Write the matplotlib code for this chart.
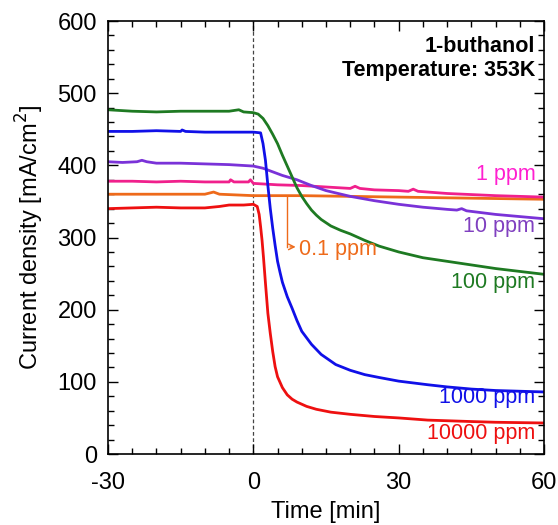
import matplotlib
matplotlib.use("Agg")
import matplotlib.pyplot as plt
from matplotlib.ticker import MultipleLocator

plt.rcParams['font.family'] = ['Liberation Sans', 'DejaVu Sans']
plt.rcParams['axes.unicode_minus'] = False

# ---- data ----
t_green = [-30, -25, -20, -15, -10, -5, -3, -2, 0, 1, 2, 3, 4, 5, 6, 7, 8, 9, 10, 11, 12, 13, 14, 16, 18, 20, 23, 26, 30, 35, 40, 45, 50, 55, 60]
v_green = [477, 475, 474, 475, 475, 475, 477, 474, 473, 471, 465, 455, 443, 430, 414, 399, 384, 369, 357, 347, 338, 331, 325, 316, 310, 305, 296, 288, 280, 272, 267, 262, 257, 253, 249]

t_blue = [-30, -25, -20, -15, -14.7, -14, -10, -5, 0, 1.5, 2, 2.5, 3, 3.5, 4, 4.5, 5, 5.5, 6, 7, 8, 9, 10, 12, 14, 17, 20, 23, 26, 30, 36, 40, 45, 50, 55, 60]
v_blue = [447, 447, 448, 447, 449, 447, 446, 446, 446, 445, 430, 407, 372, 340, 313, 289, 267, 252, 238, 218, 202, 185, 170, 152, 138, 124, 116, 110, 106, 101, 96, 93, 90, 88, 87, 86]

t_purple = [-30, -27, -24, -23, -22, -20, -15, -10, -5, 0, 2, 4, 6, 9, 12, 15, 20, 25, 30, 35, 40, 42, 43, 44, 50, 55, 60]
v_purple = [405, 404, 405, 407, 405, 403, 403, 402, 401, 399, 396, 391, 386, 380, 372, 365, 357, 351, 346, 342, 339, 338, 340, 337, 332, 329, 326]

t_pink = [-30, -25, -20, -15, -10, -8, -5, -4.7, -4, -2, -1, -0.6, 0, 5, 10, 15, 20, 21, 22, 25, 30, 32, 33, 34, 40, 50, 60]
v_pink = [378, 378, 377, 378, 377, 377, 377, 380, 377, 377, 377, 380, 375, 373, 372, 370, 368, 371, 368, 366, 365, 364, 367, 364, 361, 358, 356]

t_orange = [-30, -20, -10, -8.2, -7, 0, 10, 20, 30, 40, 50, 60]
v_orange = [360, 360, 360, 363, 360, 358, 358, 357, 356, 355, 354, 353]

t_red = [-30, -25, -20, -15, -10, -7, -5, -2, 0, 0.8, 1.2, 1.5, 1.8, 2.1, 2.5, 3, 3.5, 4, 4.5, 5, 6, 7, 8, 9, 11, 13, 16, 20, 25, 30, 36, 45, 50, 60]
v_red = [340, 341, 342, 341, 341, 343, 345, 345, 346, 343, 332, 315, 296, 272, 237, 195, 167, 142, 121, 107, 92, 82, 76, 72, 66, 62, 58, 55, 52, 50, 47, 45, 44, 43]

labels = ["1 ppm", "10 ppm", "100 ppm", "1000 ppm", "10000 ppm"]
label_y = [387, 315, 237, 78, 29]
x_ticks = [-30, 0, 30, 60]
y_ticks = [0, 100, 200, 300, 400, 500, 600]

c_green = '#1e7a22'
c_blue = '#1010e8'
c_purple = '#7a32d8'
c_pink = '#f0208c'
c_orange = '#ee6a1a'
c_red = '#ee1010'

fig = plt.figure(figsize=(5.58, 5.25), dpi=100)
ax = fig.add_axes([0.1935, 0.1352, 0.7815, 0.8248])

lw = 2.0
ax.axvline(0, color='#444444', lw=0.9, ls=(0, (3, 2)), zorder=1)
ax.plot(t_orange, v_orange, color=c_orange, lw=lw)
ax.plot(t_pink, v_pink, color=c_pink, lw=lw)
ax.plot(t_purple, v_purple, color=c_purple, lw=lw)
ax.plot(t_green, v_green, color=c_green, lw=lw)
ax.plot(t_blue, v_blue, color=c_blue, lw=lw)
ax.plot(t_red, v_red, color=c_red, lw=lw)

# 0.1 ppm annotation
ax.plot([7, 7], [358, 287], color=c_orange, lw=1.0)
ax.annotate('', xy=(9.3, 287), xytext=(7, 287),
            arrowprops=dict(arrowstyle='->', color=c_orange, lw=1.0))
ax.text(9.4, 284, '0.1 ppm', color=c_orange, fontsize=15.5, va='center', ha='left')

label_colors = ['#ff20d0', '#8040c0', '#1e7a22', '#1010e8', '#ee1010']
for s, yv, c in zip(labels, label_y, label_colors):
    ax.text(58.2, yv, s, color=c, fontsize=15.5, ha='right', va='center')

ax.text(58.2, 565, '1-buthanol', fontsize=15.5, fontweight='bold', ha='right', va='center')
ax.text(58.2, 532, 'Temperature: 353K', fontsize=15.5, fontweight='bold', ha='right', va='center')

ax.set_xlim(-30, 60)
ax.set_ylim(0, 600)
ax.set_xticks(x_ticks)
ax.set_yticks(y_ticks)
ax.xaxis.set_minor_locator(MultipleLocator(5))
ax.yaxis.set_minor_locator(MultipleLocator(20))
ax.tick_params(which='both', direction='in', top=True, right=True, width=1.0)
ax.tick_params(which='major', length=7, labelsize=17)
ax.tick_params(which='minor', length=4)
ax.tick_params(axis='x', which='major', pad=13)
ax.tick_params(axis='y', which='major', pad=8)
for sp in ax.spines.values():
    sp.set_linewidth(1.2)

ax.set_xlabel('Time [min]', fontsize=17, labelpad=5)
ax.set_ylabel('Current density [mA/cm$^2$]', fontsize=17, labelpad=8)

fig.savefig('out.png', dpi=100)
